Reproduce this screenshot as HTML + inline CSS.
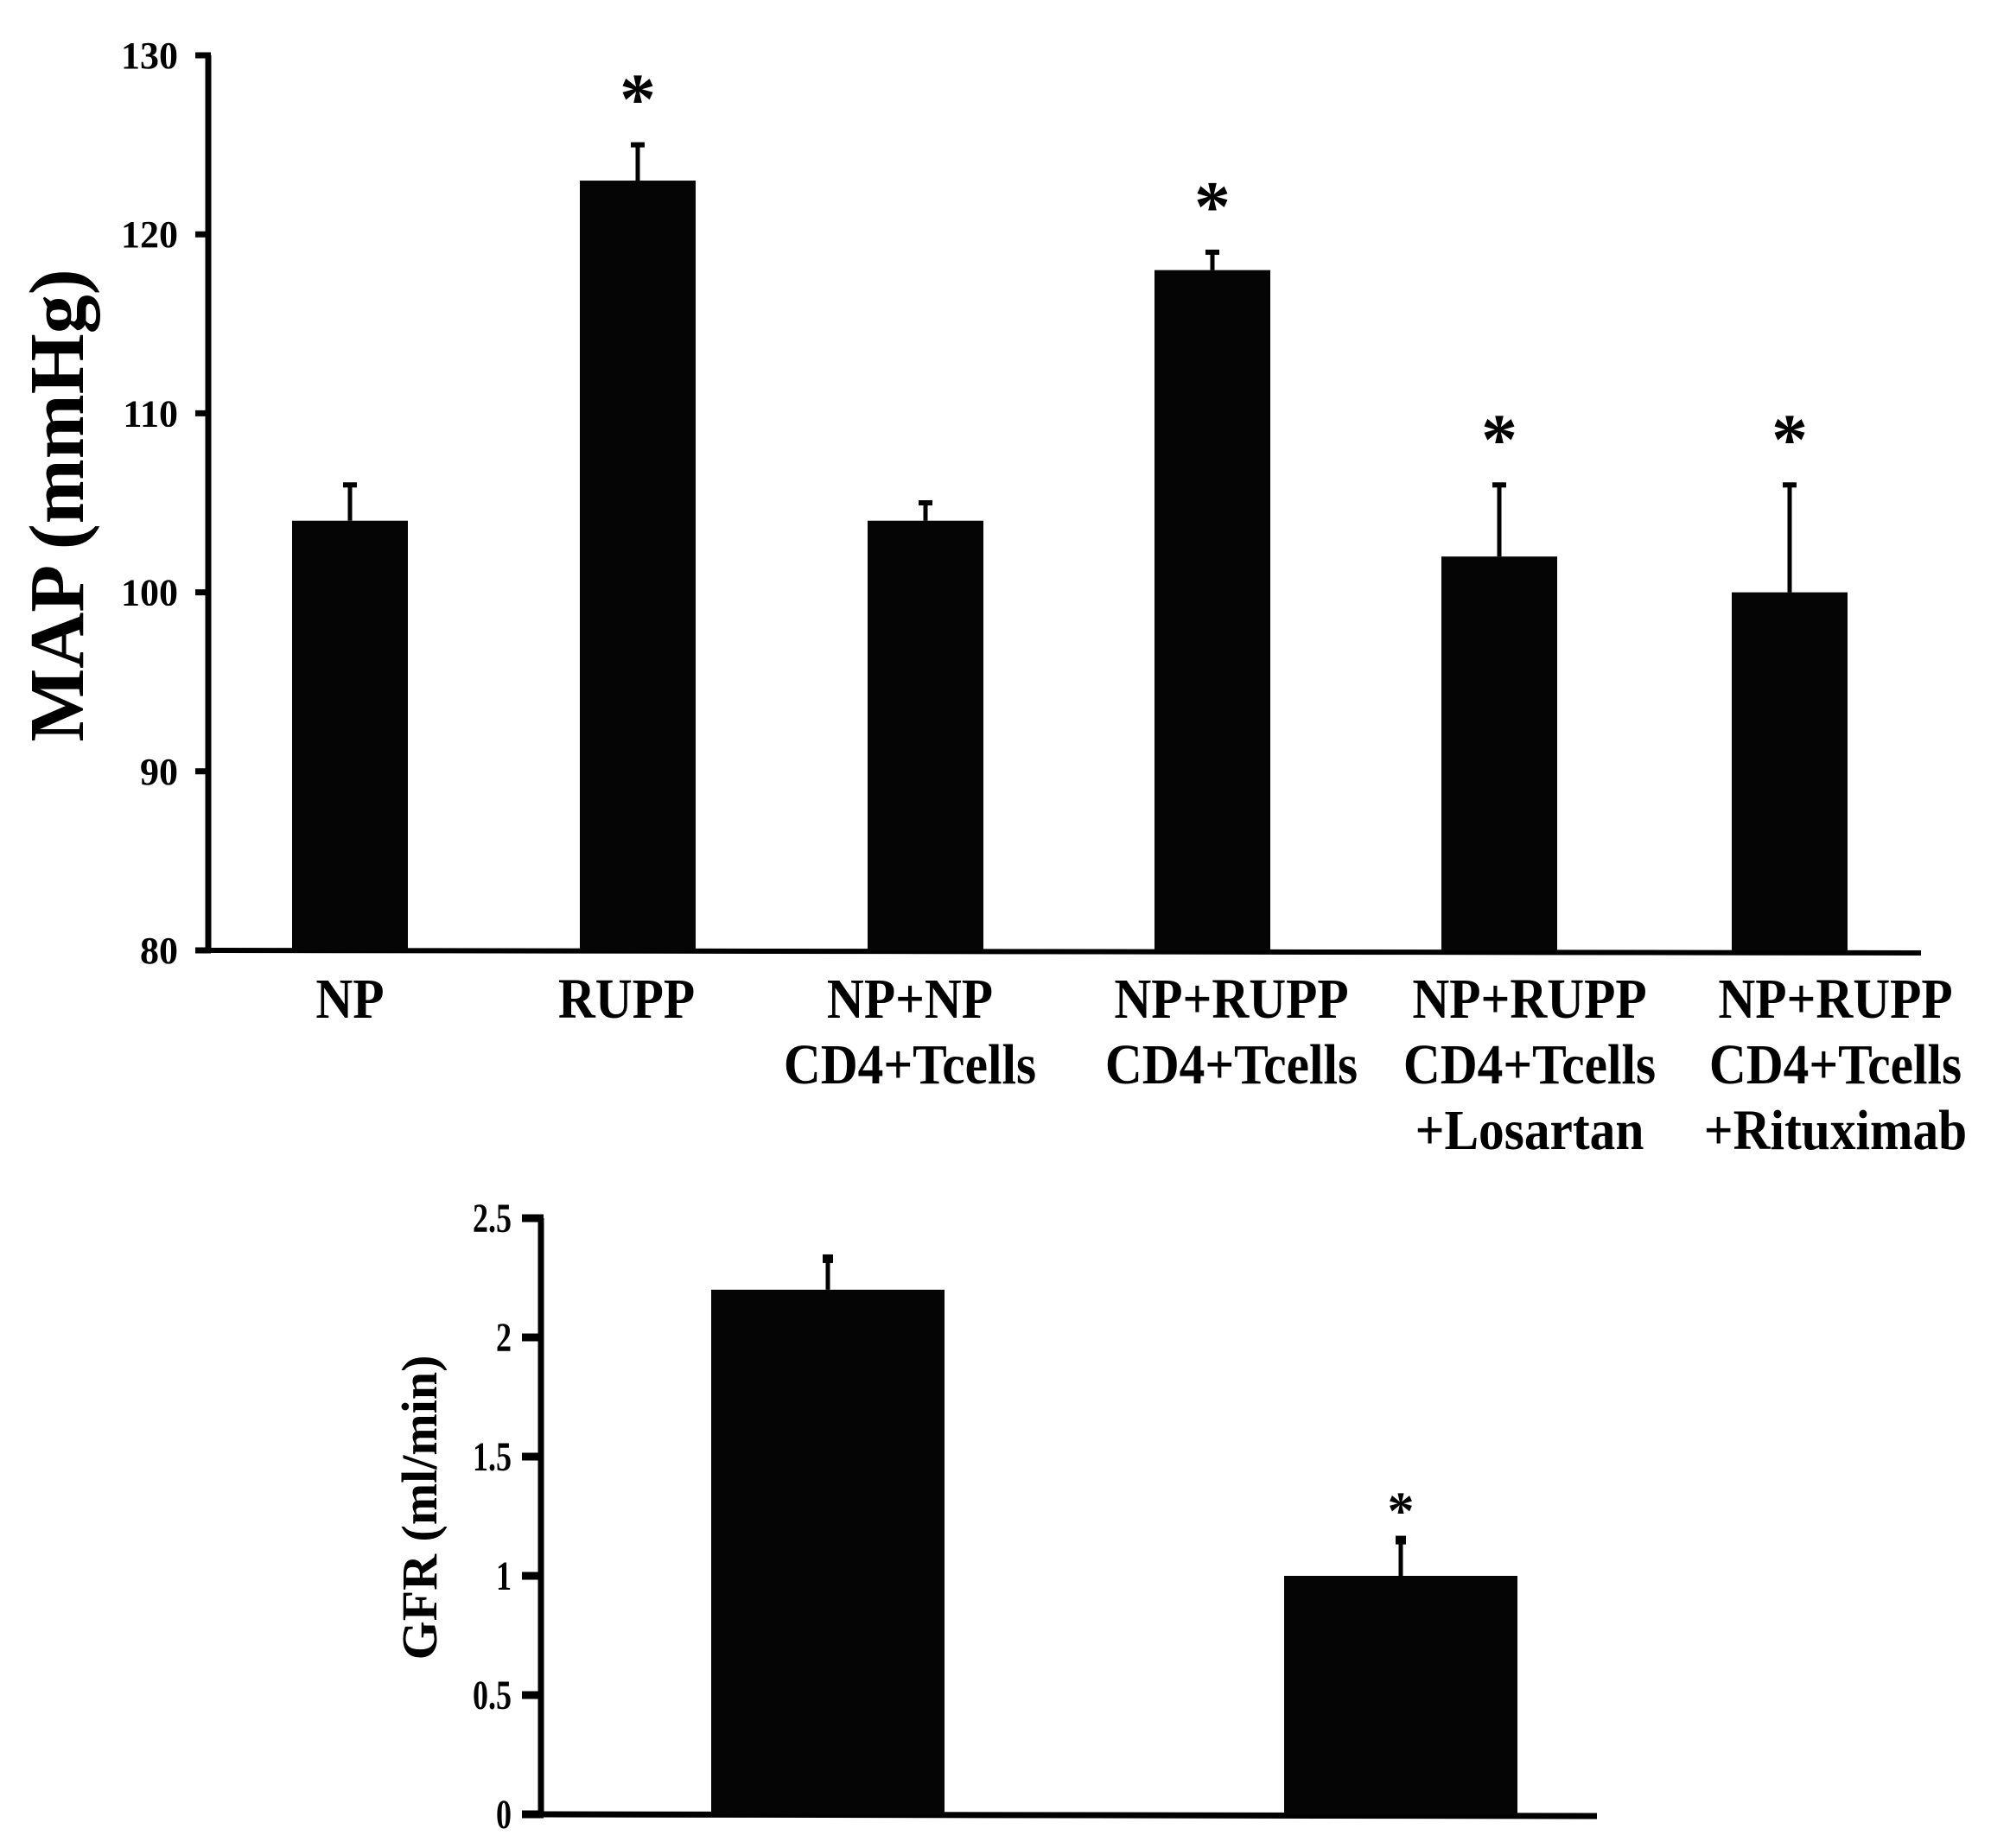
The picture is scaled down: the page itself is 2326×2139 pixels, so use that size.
<!DOCTYPE html>
<html><head><meta charset="utf-8"><style>
html,body{margin:0;padding:0;background:#fff;}
svg{display:block;}
text{font-family:"Liberation Serif",serif;font-weight:bold;fill:#000;}
</style></head>
<body>
<svg id="s" width="2326" height="2139" viewBox="0 0 2326 2139">
<g id="topchart"></g>
<g id="botchart"></g>
</svg>
<script>
const mapCategories = [["NP"],["RUPP"],["NP+NP","CD4+Tcells"],["NP+RUPP","CD4+Tcells"],["NP+RUPP","CD4+Tcells","+Losartan"],["NP+RUPP","CD4+Tcells","+Rituximab"]];
const mapValues = [104,123,104,118,102,100];
const mapErrors = [2,2,1,1,4,6];
const mapSig = [false,true,false,true,true,true];
const mapTicks = [80,90,100,110,120,130];
const gfrValues = [2.2,1.0];
const gfrErrors = [0.13,0.15];
const gfrSig = [false,true];
const gfrTicks = ["0","0.5","1","1.5","2","2.5"];

const NS="http://www.w3.org/2000/svg";
function mk(parent,tag,attrs,txt){const e=document.createElementNS(NS,tag);for(const k in attrs)e.setAttribute(k,attrs[k]);if(txt!==undefined)e.textContent=txt;parent.appendChild(e);return e;}

const topG=document.getElementById('topchart');
const yT=v=>1100-(v-80)*(1036/50);
const barCentersT=[405,738,1071,1403,1735,2071];
const labelCentersT=[405,725,1053,1425,1770,2124];
const bwT=134;
let ax=mk(topG,'line',{x1:241,y1:yT(130),x2:241,y2:yT(80)+2,stroke:'#000','stroke-width':7});


let bx=mk(topG,'line',{x1:238,y1:yT(80),x2:2223,y2:yT(80)+3,stroke:'#000','stroke-width':6});


mapTicks.forEach(t=>{
  let tk=mk(topG,'line',{x1:226,y1:yT(t),x2:244,y2:yT(t),stroke:'#000','stroke-width':7});
  
  
  let tl=mk(topG,'text',{x:206,y:yT(t)+15,'text-anchor':'end','font-size':44},String(t));
  
  
});
let tt=mk(topG,'text',{x:0,y:0,'text-anchor':'middle','font-size':90,transform:'translate(96,585) rotate(-90)'},'MAP (mmHg)');


mapValues.forEach((v,i)=>{
  const c=barCentersT[i];
  let r=mk(topG,'rect',{x:c-bwT/2,y:yT(v),width:bwT,height:yT(80)-yT(v),fill:'#050505'});
  
  
  const et=yT(v+mapErrors[i]);
  let e=mk(topG,'line',{x1:c,y1:yT(v),x2:c,y2:et,stroke:'#000','stroke-width':5});
  
  
  let cp=mk(topG,'line',{x1:c-8,y1:et,x2:c+8,y2:et,stroke:'#000','stroke-width':6});
  
  
  if(mapSig[i]){
    let a=mk(topG,'text',{x:c,y:et-25,'text-anchor':'middle','font-size':84},'*');
    
    
  }
  const g=mk(topG,'g',{transform:'translate('+labelCentersT[i]+',0) scale(0.9,1)'});
  
  
  mapCategories[i].forEach((ln,j)=>{
    mk(g,'text',{x:0,y:1178+j*76,'text-anchor':'middle','font-size':66},ln);
  });
});

const botG=document.getElementById('botchart');
const yB=v=>2100-v*276;
const barCentersB=[958,1621];
const bwB=270;
let ax2=mk(botG,'line',{x1:626,y1:yB(2.5),x2:626,y2:yB(0)+3,stroke:'#000','stroke-width':7});


let bx2=mk(botG,'line',{x1:623,y1:yB(0),x2:1848,y2:yB(0)+2,stroke:'#000','stroke-width':7});


gfrTicks.forEach(t=>{
  const v=parseFloat(t);
  let tk=mk(botG,'line',{x1:604,y1:yB(v),x2:629,y2:yB(v),stroke:'#000','stroke-width':9});
  
  
  let g=mk(botG,'g',{transform:'translate(592,'+(yB(v)+16)+') scale(0.75,1)'});
  let tl=mk(g,'text',{x:0,y:0,'text-anchor':'end','font-size':48},t);
  
  
});
let tt2=mk(botG,'text',{x:0,y:0,'text-anchor':'middle','font-size':58,transform:'translate(505,1745) rotate(-90)'},'GFR (ml/min)');


gfrValues.forEach((v,i)=>{
  const c=barCentersB[i];
  let r=mk(botG,'rect',{x:c-bwB/2,y:yB(v),width:bwB,height:yB(0)-yB(v),fill:'#050505'});
  
  
  const et=yB(v+gfrErrors[i]);
  let e=mk(botG,'line',{x1:c,y1:yB(v),x2:c,y2:et,stroke:'#000','stroke-width':5});
  
  
  let cp=mk(botG,'rect',{x:c-6,y:et-5,width:12,height:10,fill:'#000'});
  
  
  if(gfrSig[i]){
    let a=mk(botG,'text',{x:c,y:et-13,'text-anchor':'middle','font-size':62},'*');
    
    
  }
});
</script>
</body></html>
